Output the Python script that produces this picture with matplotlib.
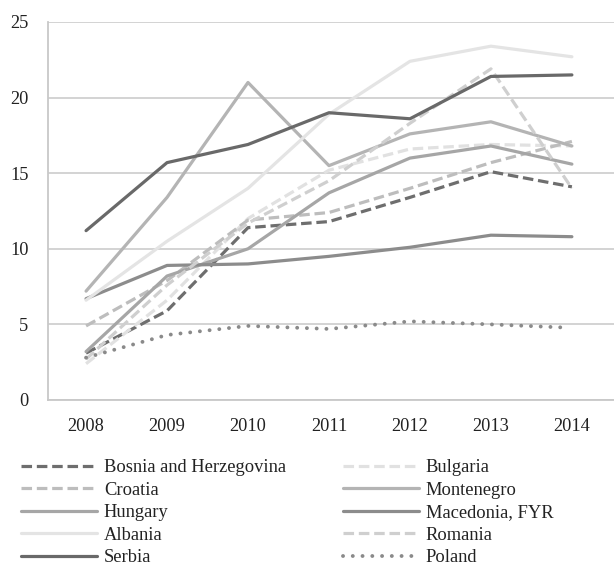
import matplotlib
matplotlib.use("Agg")
import matplotlib.pyplot as plt

years = ["2008", "2009", "2010", "2011", "2012", "2013", "2014"]

bosnia     = [3.1, 5.9, 11.4, 11.8, 13.4, 15.1, 14.1]
bulgaria   = [2.4, 6.6, 12.0, 15.2, 16.6, 16.9, 16.8]
croatia    = [4.9, 7.9, 11.9, 12.4, 14.0, 15.7, 17.1]
montenegro = [7.2, 13.4, 21.0, 15.5, 17.6, 18.4, 16.8]
hungary    = [3.2, 8.2, 10.0, 13.7, 16.0, 16.8, 15.6]
macedonia  = [6.7, 8.9, 9.0, 9.5, 10.1, 10.9, 10.8]
albania    = [6.6, 10.5, 14.0, 18.9, 22.4, 23.4, 22.7]
romania    = [2.7, 7.6, 11.7, 14.5, 18.3, 21.9, 14.0]
serbia     = [11.2, 15.7, 16.9, 19.0, 18.6, 21.4, 21.5]
poland     = [2.8, 4.3, 4.9, 4.7, 5.2, 5.0, 4.8]

names = ["Bosnia and Herzegovina", "Bulgaria", "Croatia", "Montenegro", "Hungary",
         "Macedonia, FYR", "Albania", "Romania", "Serbia", "Poland"]
series = [bosnia, bulgaria, croatia, montenegro, hungary, macedonia, albania,
          romania, serbia, poland]
colors = ["#6e6e6e", "#e1e1e1", "#bdbdbd", "#b4b4b4", "#a6a6a6",
          "#8c8c8c", "#e4e4e4", "#cfcfcf", "#696969", "#8a8a8a"]
dash = (0, (3.3, 1.5))
dot = (0, (0.01, 2.5))
styles = [dash, dash, dash, "-", "-", "-", "-", dash, "-", dot]

plt.rcParams["font.family"] = ["Liberation Serif", "DejaVu Serif"]

fig = plt.figure(figsize=(6.14, 5.71), dpi=100)
ax = fig.add_axes([48/614, 1-400/571, 1-48/614, (400-22)/571])

x = list(range(len(years)))
handles = {}
for name, vals, c, ls in zip(names, series, colors, styles):
    if ls is dot:
        h, = ax.plot(x[:-1] + [x[-1] - 0.12], vals, color=c, lw=2.8, linestyle=ls,
                     dash_capstyle="round", solid_capstyle="round")
    else:
        h, = ax.plot(x, vals, color=c, lw=2.3, linestyle=ls,
                     dash_capstyle="butt", solid_capstyle="round")
    handles[name] = h

ax.set_xlim(-0.47, 6.52)
ax.set_ylim(0, 25)
ax.set_yticks([0, 5, 10, 15, 20, 25])
ax.set_xticks(x)
ax.set_xticklabels(years)
ax.yaxis.grid(True, color="#d0d0d0", lw=1.3)
ax.set_axisbelow(True)
for s in ["top", "right"]:
    ax.spines[s].set_visible(False)
for s in ["left", "bottom"]:
    ax.spines[s].set_color("#c8c8c8")
    ax.spines[s].set_linewidth(1.3)
ax.tick_params(axis="both", length=0, labelsize=13.2, colors="#222222")
ax.tick_params(axis="y", pad=14)
ax.tick_params(axis="x", pad=13)

col1 = ["Bosnia and Herzegovina", "Croatia", "Hungary", "Albania", "Serbia"]
col2 = ["Bulgaria", "Montenegro", "Macedonia, FYR", "Romania", "Poland"]

common = dict(frameon=False, fontsize=13.3, handlelength=4.1, handletextpad=0.38,
              labelspacing=0.3, borderpad=0, borderaxespad=0, loc="upper left",
              bbox_transform=fig.transFigure)
leg1 = fig.legend([handles[n] for n in col1], col1,
                  bbox_to_anchor=(21/614, 1-459/571), **common)
leg2 = fig.legend([handles[n] for n in col2], col2,
                  bbox_to_anchor=(343/614, 1-459/571), **common)
for leg in (leg1, leg2):
    for t in leg.get_texts():
        t.set_color("#222222")

fig.savefig("out.png", dpi=100)
